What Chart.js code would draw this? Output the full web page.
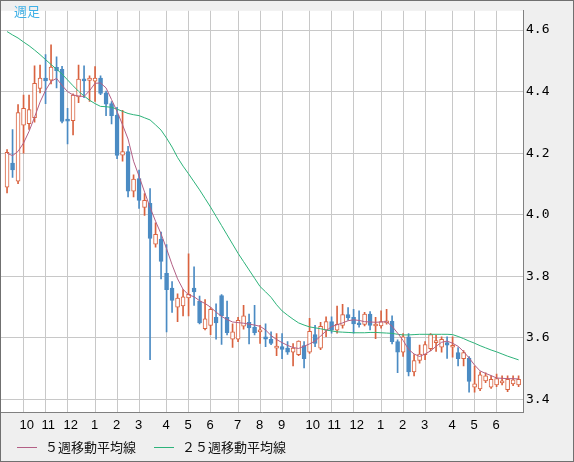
<!DOCTYPE html>
<html>
<head>
<meta charset="utf-8">
<script src="https://cdn.jsdelivr.net/npm/chart.js@4.4.1/dist/chart.umd.min.js"></script>
<style>
  html, body { margin: 0; padding: 0; background: #efefef; }
  canvas { display: block; }
</style>
</head>
<body>
<canvas id="chart" width="574" height="462"></canvas>
<script>
// --- weekly candles (one entry per week, oldest first) ---
const weekOpen = [
  4.090, 4.168, 4.109, 4.291, 4.296, 4.315, 4.410, 4.444, 4.437, 4.479,
  4.472, 4.308, 4.306, 4.383, 4.441, 4.436, 4.434, 4.444, 4.396, 4.361,
  4.324, 4.194, 4.205, 4.077, 4.118, 4.024, 4.037, 3.905, 3.921, 3.810,
  3.762, 3.700, 3.704, 3.730, 3.762, 3.720, 3.630, 3.641, 3.667, 3.738,
  3.667, 3.596, 3.596, 3.638, 3.651, 3.635, 3.620, 3.604, 3.596, 3.567,
  3.572, 3.567, 3.554, 3.546, 3.575, 3.554, 3.611, 3.567, 3.625, 3.653,
  3.625, 3.641, 3.676, 3.667, 3.649, 3.644, 3.678, 3.639, 3.639, 3.649,
  3.654, 3.588, 3.554, 3.604, 3.490, 3.527, 3.546, 3.565, 3.585, 3.570,
  3.585, 3.570, 3.553, 3.533, 3.535, 3.440, 3.435, 3.461, 3.440, 3.448,
  3.454, 3.432, 3.451, 3.448
];
const weekHigh = [
  4.212, 4.277, 4.358, 4.389, 4.389, 4.484, 4.486, 4.520, 4.552, 4.513,
  4.482, 4.346, 4.393, 4.486, 4.484, 4.451, 4.481, 4.451, 4.402, 4.368,
  4.349, 4.339, 4.222, 4.130, 4.145, 4.069, 4.085, 3.974, 3.944, 3.903,
  3.783, 3.743, 3.757, 3.873, 3.831, 3.736, 3.725, 3.699, 3.711, 3.741,
  3.720, 3.646, 3.667, 3.706, 3.678, 3.706, 3.641, 3.646, 3.620, 3.614,
  3.614, 3.588, 3.582, 3.591, 3.588, 3.664, 3.641, 3.651, 3.669, 3.669,
  3.704, 3.709, 3.699, 3.693, 3.688, 3.683, 3.686, 3.667, 3.688, 3.693,
  3.672, 3.594, 3.614, 3.614, 3.546, 3.577, 3.588, 3.614, 3.609, 3.604,
  3.604, 3.604, 3.569, 3.559, 3.540, 3.509, 3.490, 3.487, 3.477, 3.483,
  3.477, 3.477, 3.477, 3.477
];
const weekLow = [
  4.071, 4.121, 4.101, 4.200, 4.277, 4.301, 4.396, 4.361, 4.425, 4.412,
  4.298, 4.230, 4.259, 4.364, 4.380, 4.368, 4.368, 4.390, 4.322, 4.295,
  4.182, 4.174, 4.058, 4.058, 4.021, 3.998, 3.530, 3.895, 3.792, 3.620,
  3.683, 3.653, 3.672, 3.672, 3.706, 3.646, 3.626, 3.611, 3.596, 3.579,
  3.610, 3.569, 3.588, 3.629, 3.581, 3.610, 3.582, 3.572, 3.578, 3.543,
  3.533, 3.547, 3.509, 3.543, 3.503, 3.550, 3.572, 3.562, 3.604, 3.616,
  3.616, 3.632, 3.658, 3.616, 3.635, 3.639, 3.626, 3.598, 3.632, 3.645,
  3.581, 3.487, 3.540, 3.477, 3.477, 3.518, 3.530, 3.559, 3.556, 3.554,
  3.534, 3.538, 3.509, 3.509, 3.424, 3.424, 3.429, 3.455, 3.436, 3.442,
  3.448, 3.426, 3.445, 3.442
];
const weekClose = [
  4.203, 4.146, 4.332, 4.346, 4.342, 4.427, 4.444, 4.435, 4.480, 4.468,
  4.303, 4.304, 4.389, 4.441, 4.435, 4.444, 4.444, 4.394, 4.359, 4.322,
  4.193, 4.205, 4.077, 4.116, 4.047, 4.047, 3.923, 3.937, 3.849, 3.757,
  3.722, 3.730, 3.734, 3.742, 3.750, 3.649, 3.662, 3.693, 3.649, 3.672,
  3.617, 3.620, 3.657, 3.672, 3.633, 3.617, 3.625, 3.596, 3.582, 3.572,
  3.563, 3.554, 3.567, 3.590, 3.533, 3.622, 3.582, 3.638, 3.653, 3.625,
  3.644, 3.676, 3.665, 3.646, 3.643, 3.678, 3.641, 3.643, 3.653, 3.653,
  3.588, 3.554, 3.604, 3.490, 3.527, 3.548, 3.579, 3.611, 3.588, 3.596,
  3.577, 3.574, 3.533, 3.553, 3.459, 3.451, 3.480, 3.477, 3.466, 3.468,
  3.461, 3.466, 3.464, 3.466
];

// moving averages as drawn on the chart
const ma5 = [
  4.200, 4.192, 4.206, 4.233, 4.271, 4.317, 4.366, 4.404, 4.433, 4.443,
  4.420, 4.400, 4.389, 4.386, 4.384, 4.403, 4.427, 4.428, 4.412, 4.374,
  4.336, 4.292, 4.246, 4.174, 4.125, 4.074, 4.024, 3.979, 3.938, 3.890,
  3.838, 3.792, 3.758, 3.740, 3.734, 3.721, 3.712, 3.700, 3.684, 3.670,
  3.660, 3.652, 3.650, 3.648, 3.645, 3.642, 3.638, 3.626, 3.608, 3.595,
  3.585, 3.576, 3.569, 3.566, 3.573, 3.581, 3.590, 3.606, 3.623, 3.637,
  3.643, 3.649, 3.656, 3.659, 3.657, 3.653, 3.652, 3.651, 3.652, 3.653,
  3.638, 3.616, 3.592, 3.563, 3.548, 3.540, 3.548, 3.558, 3.573, 3.586,
  3.590, 3.583, 3.573, 3.556, 3.535, 3.512, 3.493, 3.485, 3.478, 3.470,
  3.469, 3.468, 3.468, 3.467
];
const ma25 = [
  4.595, 4.584, 4.574, 4.561, 4.549, 4.535, 4.520, 4.504, 4.488, 4.473,
  4.457, 4.438, 4.419, 4.401, 4.386, 4.372, 4.361, 4.352, 4.351, 4.349,
  4.343, 4.336, 4.329, 4.325, 4.322, 4.315, 4.308, 4.292, 4.275, 4.249,
  4.220, 4.186, 4.158, 4.133, 4.107, 4.081, 4.053, 4.025, 3.995, 3.965,
  3.935, 3.905, 3.875, 3.848, 3.821, 3.794, 3.767, 3.750, 3.732, 3.708,
  3.688, 3.674, 3.661, 3.649, 3.642, 3.636, 3.633, 3.630, 3.626, 3.623,
  3.620, 3.619, 3.618, 3.617, 3.617, 3.617, 3.618, 3.618, 3.617, 3.616,
  3.615, 3.612, 3.610, 3.610, 3.611, 3.612, 3.612, 3.612, 3.612, 3.612,
  3.612, 3.611, 3.605, 3.598, 3.590, 3.583, 3.575, 3.568, 3.561, 3.555,
  3.548, 3.541, 3.535, 3.529
];

// first week of each month and its label
const monthTickIdx = [3, 7, 11, 16, 20, 24, 29, 33, 37, 42, 46, 50, 55, 59, 63, 68, 72, 76, 81, 85, 89];
const monthLabels = ['10', '11', '12', '1', '2', '3', '4', '5', '6', '7', '8', '9', '10', '11', '12', '1', '2', '3', '4', '5', '6'];
const yTicks = [3.4, 3.6, 3.8, 4.0, 4.2, 4.4, 4.6];

const UP = '#d9623f';
const DOWN = '#4b8bc3';
const MA5_COLOR = '#b35f85';
const MA25_COLOR = '#2db37a';

const idx = weekClose.map((_, i) => i);
const isUp = idx.map(i => weekClose[i] >= weekOpen[i]);

// fondo gris + área blanca, marco, título y leyenda
const chartDecor = {
    id: 'chartDecor',
    beforeDraw(chart) {
        const { ctx, chartArea: a } = chart;
        ctx.save();
        ctx.fillStyle = '#efefef';
        ctx.fillRect(0, 0, chart.width, chart.height);
        ctx.fillStyle = '#ffffff';
        ctx.fillRect(a.left, a.top, a.right - a.left, a.bottom - a.top);
        ctx.restore();
    },
    afterDraw(chart) {
        const { ctx } = chart;
        ctx.save();
        ctx.strokeStyle = '#707070';
        ctx.lineWidth = 1;
        ctx.strokeRect(0.5, 0.5, chart.width - 1, chart.height - 1);

        ctx.fillStyle = '#3fb0e6';
        ctx.font = '13px "Noto Sans CJK JP"';
        ctx.textBaseline = 'middle';
        ctx.fillText('週足', 14, 11);

        // leyenda
        ctx.font = '13px "Noto Sans CJK JP"';
        let x = 17;
        const y = 447.5;
        [0, 1].forEach(d => {
            const ds = chart.data.datasets[d];
            ctx.strokeStyle = ds.borderColor;
            ctx.beginPath();
            ctx.moveTo(x, y);
            ctx.lineTo(x + 20, y);
            ctx.stroke();
            ctx.fillStyle = '#111';
            ctx.fillText(ds.label, x + 28, y);
            x += 28 + ctx.measureText(ds.label).width + 18;
        });
        ctx.restore();
    }
};

new Chart(document.getElementById('chart').getContext('2d'), {
    type: 'bar',
    data: {
        datasets: [
            {
                type: 'line',
                label: '５週移動平均線',
                data: idx.map(i => ({ x: i, y: ma5[i] })),
                borderColor: MA5_COLOR,
                borderWidth: 1,
                pointRadius: 0,
                tension: 0,
                order: 0
            },
            {
                type: 'line',
                label: '２５週移動平均線',
                data: idx.map(i => ({ x: i, y: ma25[i] })),
                borderColor: MA25_COLOR,
                borderWidth: 1,
                pointRadius: 0,
                tension: 0,
                order: 0
            },
            {
                type: 'bar',
                label: 'body',
                data: idx.map(i => ({ x: i, y: [weekOpen[i], weekClose[i]] })),
                backgroundColor: idx.map(i => isUp[i] ? '#ffffff' : DOWN),
                borderColor: idx.map(i => isUp[i] ? UP : DOWN),
                borderWidth: 1,
                borderSkipped: false,
                barThickness: 4,
                minBarLength: 2,
                grouped: false,
                order: 1
            },
            {
                type: 'bar',
                label: 'wick',
                data: idx.map(i => ({ x: i, y: [weekLow[i], weekHigh[i]] })),
                backgroundColor: idx.map(i => isUp[i] ? UP : DOWN),
                borderWidth: 0,
                barThickness: 1,
                grouped: false,
                order: 2
            }
        ]
    },
    options: {
        responsive: false,
        animation: false,
        events: [],
        layout: { padding: { left: 1, top: 1, right: 0, bottom: 0 } },
        plugins: {
            legend: { display: false },
            tooltip: { enabled: false }
        },
        scales: {
            x: {
                type: 'linear',
                min: -1.1,
                max: 93.8,
                offset: false,
                afterBuildTicks: s => { s.ticks = monthTickIdx.map(v => ({ value: v })); },
                afterFit: s => { s.height = 50; },
                ticks: {
                    autoSkip: false,
                    maxRotation: 0,
                    align: 'start',
                    labelOffset: -4,
                    padding: 6,
                    color: '#000',
                    font: { family: 'Liberation Sans', size: 13 },
                    callback: (v, k) => monthLabels[k]
                },
                grid: { color: '#c8c8c8', drawTicks: false, offset: false },
                border: { color: '#808080' }
            },
            y: {
                type: 'linear',
                position: 'right',
                min: 3.3597,
                max: 4.6624,
                afterBuildTicks: s => { s.ticks = yTicks.map(v => ({ value: v })); },
                afterFit: s => { s.width = 51; },
                ticks: {
                    padding: 3,
                    color: '#000',
                    font: { family: 'DejaVu Sans Mono', size: 13 },
                    callback: v => v.toFixed(1)
                },
                grid: { color: '#c8c8c8', drawTicks: false },
                border: { color: '#808080' }
            }
        }
    },
    plugins: [chartDecor]
});
</script>
</body>
</html>
